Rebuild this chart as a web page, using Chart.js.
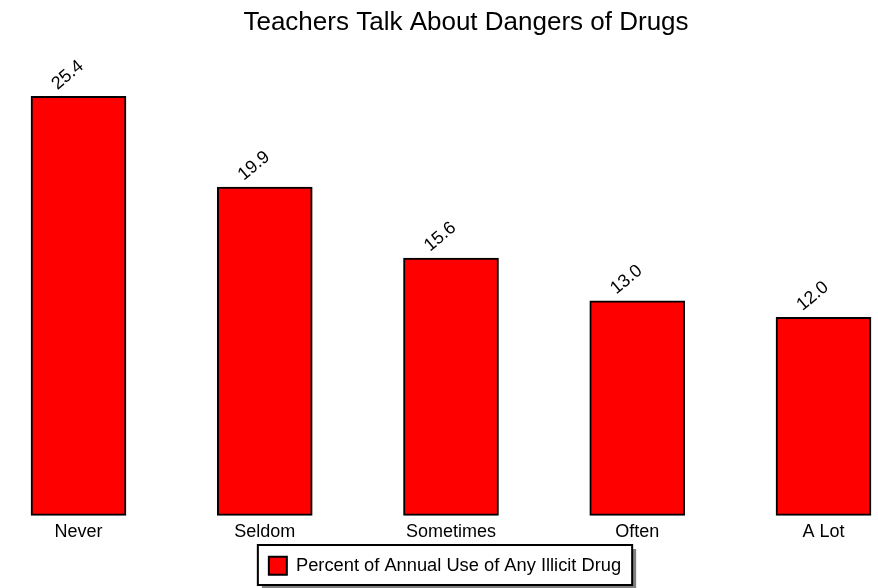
<!DOCTYPE html>
<html>
<head>
<meta charset="utf-8">
<title>Teachers Talk About Dangers of Drugs</title>
<script src="https://cdn.jsdelivr.net/npm/chart.js@4/dist/chart.umd.min.js"></script>
<style>
    body { margin: 0; background: #ffffff; }
    canvas { display: block; }
</style>
</head>
<body>
<canvas id="drugs-chart" width="878" height="588"></canvas>
<script>
// Chart data
const chartTitle = 'Teachers Talk About Dangers of Drugs';
const categories = ['Never', 'Seldom', 'Sometimes', 'Often', 'A Lot'];
const seriesName = 'Percent of Annual Use of Any Illicit Drug';
const usePercent = [25.4, 19.9, 15.6, 13.0, 12.0];

const fontFamily = '"Liberation Sans", Arial, Helvetica, sans-serif';

// Title drawn by hand so it can sit where the original has it
const titlePlugin = {
    id: 'plainTitle',
    afterDraw(chart) {
        const ctx = chart.ctx;
        ctx.save();
        ctx.font = '26px ' + fontFamily;
        ctx.fillStyle = '#000000';
        ctx.textAlign = 'center';
        ctx.textBaseline = 'alphabetic';
        ctx.fillText(chartTitle, 466, 30);
        ctx.restore();
    }
};

// Rotated value labels on top of each bar
const valueLabelPlugin = {
    id: 'valueLabels',
    afterDatasetsDraw(chart) {
        const ctx = chart.ctx;
        const meta = chart.getDatasetMeta(0);
        ctx.save();
        ctx.font = '18px ' + fontFamily;
        ctx.fillStyle = '#000000';
        ctx.textAlign = 'left';
        ctx.textBaseline = 'alphabetic';
        meta.data.forEach((bar, i) => {
            const value = chart.data.datasets[0].data[i];
            ctx.save();
            ctx.translate(bar.x - 21, bar.y - 6);
            ctx.rotate(-40 * Math.PI / 180);
            ctx.fillText(value.toFixed(1), 0, 0);
            ctx.restore();
        });
        ctx.restore();
    }
};

// Framed legend with a drop shadow
const legendFramePlugin = {
    id: 'legendFrame',
    afterLayout(chart) {
        const legend = chart.legend;
        const shift = -6;
        legend.left += shift;
        legend.right += shift;
        legend.legendHitBoxes.forEach(hb => { hb.left += shift; });
    },
    beforeDraw(chart) {
        const hb = chart.legend.legendHitBoxes[0];
        if (!hb) return;
        const ctx = chart.ctx;
        const x = hb.left - 11;
        const y = 545;
        const w = hb.width + 22;
        const h = 40;
        ctx.save();
        ctx.fillStyle = '#808080';
        ctx.fillRect(x + 4, y + 4, w, h);
        ctx.fillStyle = '#ffffff';
        ctx.fillRect(x, y, w, h);
        ctx.strokeStyle = '#000000';
        ctx.lineWidth = 2;
        ctx.strokeRect(x, y, w, h);
        ctx.restore();
    }
};

const ctx = document.getElementById('drugs-chart').getContext('2d');
const drugsChart = new Chart(ctx, {
    type: 'bar',
    data: {
        labels: categories,
        datasets: [
            {
                label: seriesName,
                data: usePercent,
                backgroundColor: '#ff0000',
                borderColor: '#000000',
                borderWidth: 2,
                borderSkipped: false,
                barThickness: 95,
                clip: false
            }
        ]
    },
    options: {
        responsive: false,
        animation: false,
        layout: {
            padding: { top: 53.4, left: 78.5, right: 54.5, bottom: 3 }
        },
        scales: {
            x: {
                offset: false,
                grid: { display: false, drawTicks: false },
                border: { display: false },
                ticks: {
                    color: '#000000',
                    font: { family: fontFamily, size: 18 },
                    padding: 6,
                    autoSkip: false,
                    maxRotation: 0
                },
                afterFit(scale) {
                    scale.height = 31.4;
                }
            },
            y: {
                display: false,
                min: 0,
                max: 28
            }
        },
        plugins: {
            title: { display: false },
            tooltip: { enabled: false },
            legend: {
                position: 'bottom',
                labels: {
                    color: '#000000',
                    font: { family: fontFamily, size: 18.3 },
                    boxWidth: 18,
                    boxHeight: 18,
                    padding: 10
                }
            }
        }
    },
    plugins: [titlePlugin, valueLabelPlugin, legendFramePlugin]
});
</script>
</body>
</html>
